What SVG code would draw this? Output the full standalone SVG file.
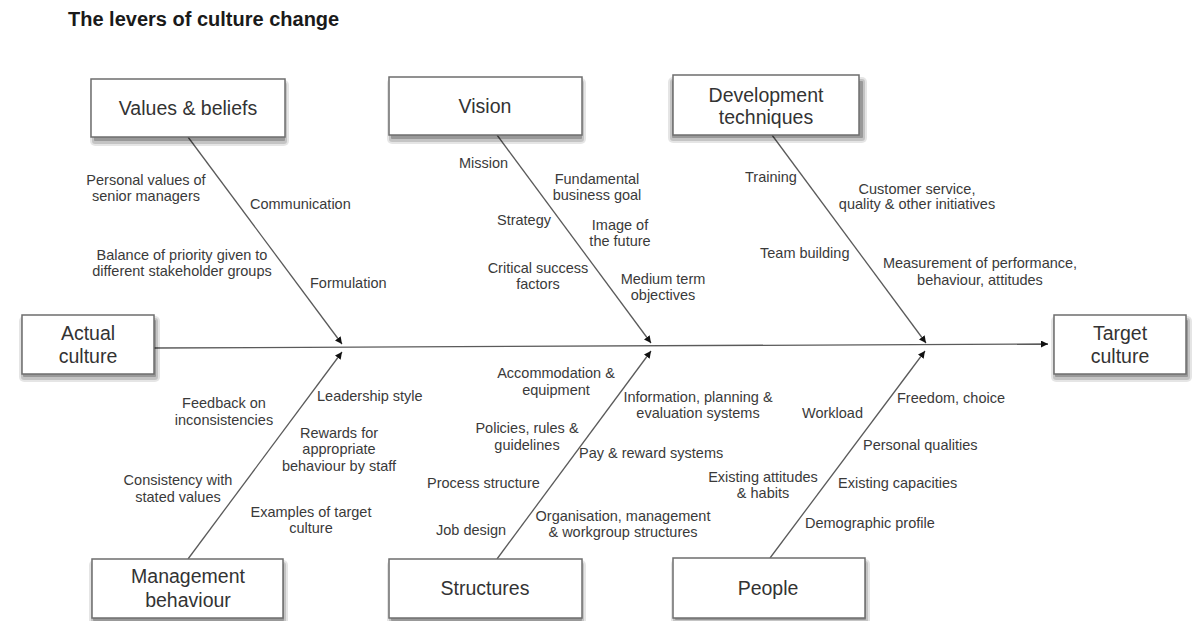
<svg xmlns="http://www.w3.org/2000/svg" width="1200" height="621" viewBox="0 0 1200 621">
  <style>
    .title { font-family: "Liberation Sans", Arial, sans-serif; font-size: 20px; font-weight: bold; fill: #1a1a1a; }
    .box { fill: #ffffff; stroke: #6e6e6e; stroke-width: 1.5; }
    .sh1 { fill: #000000; fill-opacity: 0.10; }
    .sh2 { fill: #000000; fill-opacity: 0.14; }
    .sh3 { fill: #000000; fill-opacity: 0.22; }
    .head { font-family: "Liberation Sans", Arial, sans-serif; font-size: 19.5px; fill: #333333; text-anchor: middle; }
    .lbl { font-family: "Liberation Sans", Arial, sans-serif; font-size: 14.5px; fill: #3a3a3a; }
    .mid { text-anchor: middle; }
    .bone { stroke: #5a5a5a; stroke-width: 1.3; fill: none; marker-end: url(#tip); }
  </style>
  <defs>
    <marker id="tip" viewBox="0 0 10 10" refX="10" refY="5" markerWidth="7" markerHeight="7" markerUnits="userSpaceOnUse" orient="auto">
      <path d="M0,0 L10,5 L0,10 Z" fill="#111111"/>
    </marker>
    <!-- soft drop shadow for a box of 190 x 59, built from stacked translucent layers -->
    <g id="shadow-wide">
      <rect class="sh1" x="-3" y="1" width="199" height="66" rx="5"/>
      <rect class="sh2" x="-1" y="3" width="195" height="62" rx="3"/>
      <rect class="sh3" x="1" y="5" width="191" height="57" rx="1"/>
    </g>
    <g id="shadow-narrow">
      <rect class="sh1" x="-3" y="1" width="141" height="66" rx="5"/>
      <rect class="sh2" x="-1" y="3" width="137" height="62" rx="3"/>
      <rect class="sh3" x="1" y="5" width="133" height="57" rx="1"/>
    </g>
  </defs>

  <rect width="1200" height="621" fill="#ffffff"/>

  <text class="title" x="68" y="26">The levers of culture change</text>

  <!-- spine and bones -->
  <g id="connectors">
    <line class="bone" x1="154" y1="348" x2="1048" y2="344"/>
    <line class="bone" x1="188" y1="137" x2="342" y2="344"/>
    <line class="bone" x1="497" y1="135" x2="651" y2="343"/>
    <line class="bone" x1="772" y1="135" x2="926" y2="343"/>
    <line class="bone" x1="188" y1="559" x2="342" y2="352"/>
    <line class="bone" x1="497" y1="559" x2="651" y2="351"/>
    <line class="bone" x1="770" y1="558" x2="925" y2="351"/>
  </g>

  <!-- ends of the spine -->
  <g id="actual-culture">
    <use href="#shadow-narrow" x="22" y="315"/>
    <rect class="box" x="22" y="315" width="132" height="59"/>
    <text class="head" x="88" y="340">Actual</text>
    <text class="head" x="88" y="363">culture</text>
  </g>
  <g id="target-culture">
    <use href="#shadow-narrow" x="1054" y="315"/>
    <rect class="box" x="1054" y="315" width="132" height="59"/>
    <text class="head" x="1120" y="340">Target</text>
    <text class="head" x="1120" y="363">culture</text>
  </g>

  <!-- upper levers -->
  <g id="values-beliefs">
    <use href="#shadow-wide" x="93" y="79"/>
    <rect class="box" x="91" y="79" width="194" height="58"/>
    <text class="head" x="188" y="115">Values &amp; beliefs</text>
    <text class="lbl mid" x="146" y="185">Personal values of</text>
    <text class="lbl mid" x="146" y="201">senior managers</text>
    <text class="lbl" x="250" y="209">Communication</text>
    <text class="lbl mid" x="182" y="260">Balance of priority given to</text>
    <text class="lbl mid" x="182" y="276">different stakeholder groups</text>
    <text class="lbl" x="310" y="288">Formulation</text>
  </g>

  <g id="vision">
    <use href="#shadow-wide" x="390" y="77"/>
    <rect class="box" x="389" y="77" width="193" height="58"/>
    <text class="head" x="485" y="113">Vision</text>
    <text class="lbl" x="459" y="168">Mission</text>
    <text class="lbl mid" x="597" y="184">Fundamental</text>
    <text class="lbl mid" x="597" y="200">business goal</text>
    <text class="lbl" x="497" y="225">Strategy</text>
    <text class="lbl mid" x="620" y="230">Image of</text>
    <text class="lbl mid" x="620" y="246">the future</text>
    <text class="lbl mid" x="538" y="273">Critical success</text>
    <text class="lbl mid" x="538" y="289">factors</text>
    <text class="lbl mid" x="663" y="284">Medium term</text>
    <text class="lbl mid" x="663" y="300">objectives</text>
  </g>

  <g id="development-techniques">
    <use href="#shadow-wide" x="671" y="76"/>
    <rect class="box" x="673" y="75" width="186" height="60"/>
    <text class="head" x="766" y="102">Development</text>
    <text class="head" x="766" y="124">techniques</text>
    <text class="lbl" x="745" y="182">Training</text>
    <text class="lbl mid" x="917" y="194">Customer service,</text>
    <text class="lbl mid" x="917" y="209">quality &amp; other initiatives</text>
    <text class="lbl" x="760" y="258">Team building</text>
    <text class="lbl mid" x="980" y="268">Measurement of performance,</text>
    <text class="lbl mid" x="980" y="285">behaviour, attitudes</text>
  </g>

  <!-- lower levers -->
  <g id="management-behaviour">
    <use href="#shadow-wide" x="92" y="559"/>
    <rect class="box" x="92" y="559" width="191" height="59"/>
    <text class="head" x="188" y="583">Management</text>
    <text class="head" x="188" y="607">behaviour</text>
    <text class="lbl" x="317" y="401">Leadership style</text>
    <text class="lbl mid" x="224" y="408">Feedback on</text>
    <text class="lbl mid" x="224" y="425">inconsistencies</text>
    <text class="lbl mid" x="339" y="438">Rewards for</text>
    <text class="lbl mid" x="339" y="454">appropriate</text>
    <text class="lbl mid" x="339" y="471">behaviour by staff</text>
    <text class="lbl mid" x="178" y="485">Consistency with</text>
    <text class="lbl mid" x="178" y="502">stated values</text>
    <text class="lbl mid" x="311" y="517">Examples of target</text>
    <text class="lbl mid" x="311" y="533">culture</text>
  </g>

  <g id="structures">
    <use href="#shadow-wide" x="390" y="559"/>
    <rect class="box" x="389" y="559" width="193" height="59"/>
    <text class="head" x="485" y="595">Structures</text>
    <text class="lbl mid" x="556" y="378">Accommodation &amp;</text>
    <text class="lbl mid" x="556" y="395">equipment</text>
    <text class="lbl mid" x="698" y="402">Information, planning &amp;</text>
    <text class="lbl mid" x="698" y="418">evaluation systems</text>
    <text class="lbl mid" x="527" y="433">Policies, rules &amp;</text>
    <text class="lbl mid" x="527" y="450">guidelines</text>
    <text class="lbl" x="579" y="458">Pay &amp; reward systems</text>
    <text class="lbl" x="427" y="488">Process structure</text>
    <text class="lbl mid" x="623" y="521">Organisation, management</text>
    <text class="lbl mid" x="623" y="537">&amp; workgroup structures</text>
    <text class="lbl" x="436" y="535">Job design</text>
  </g>

  <g id="people">
    <use href="#shadow-wide" x="674" y="558"/>
    <rect class="box" x="673" y="558" width="192" height="60"/>
    <text class="head" x="768" y="595">People</text>
    <text class="lbl" x="897" y="403">Freedom, choice</text>
    <text class="lbl" x="802" y="418">Workload</text>
    <text class="lbl" x="863" y="450">Personal qualities</text>
    <text class="lbl mid" x="763" y="482">Existing attitudes</text>
    <text class="lbl mid" x="763" y="498">&amp; habits</text>
    <text class="lbl" x="838" y="488">Existing capacities</text>
    <text class="lbl" x="805" y="528">Demographic profile</text>
  </g>
</svg>
